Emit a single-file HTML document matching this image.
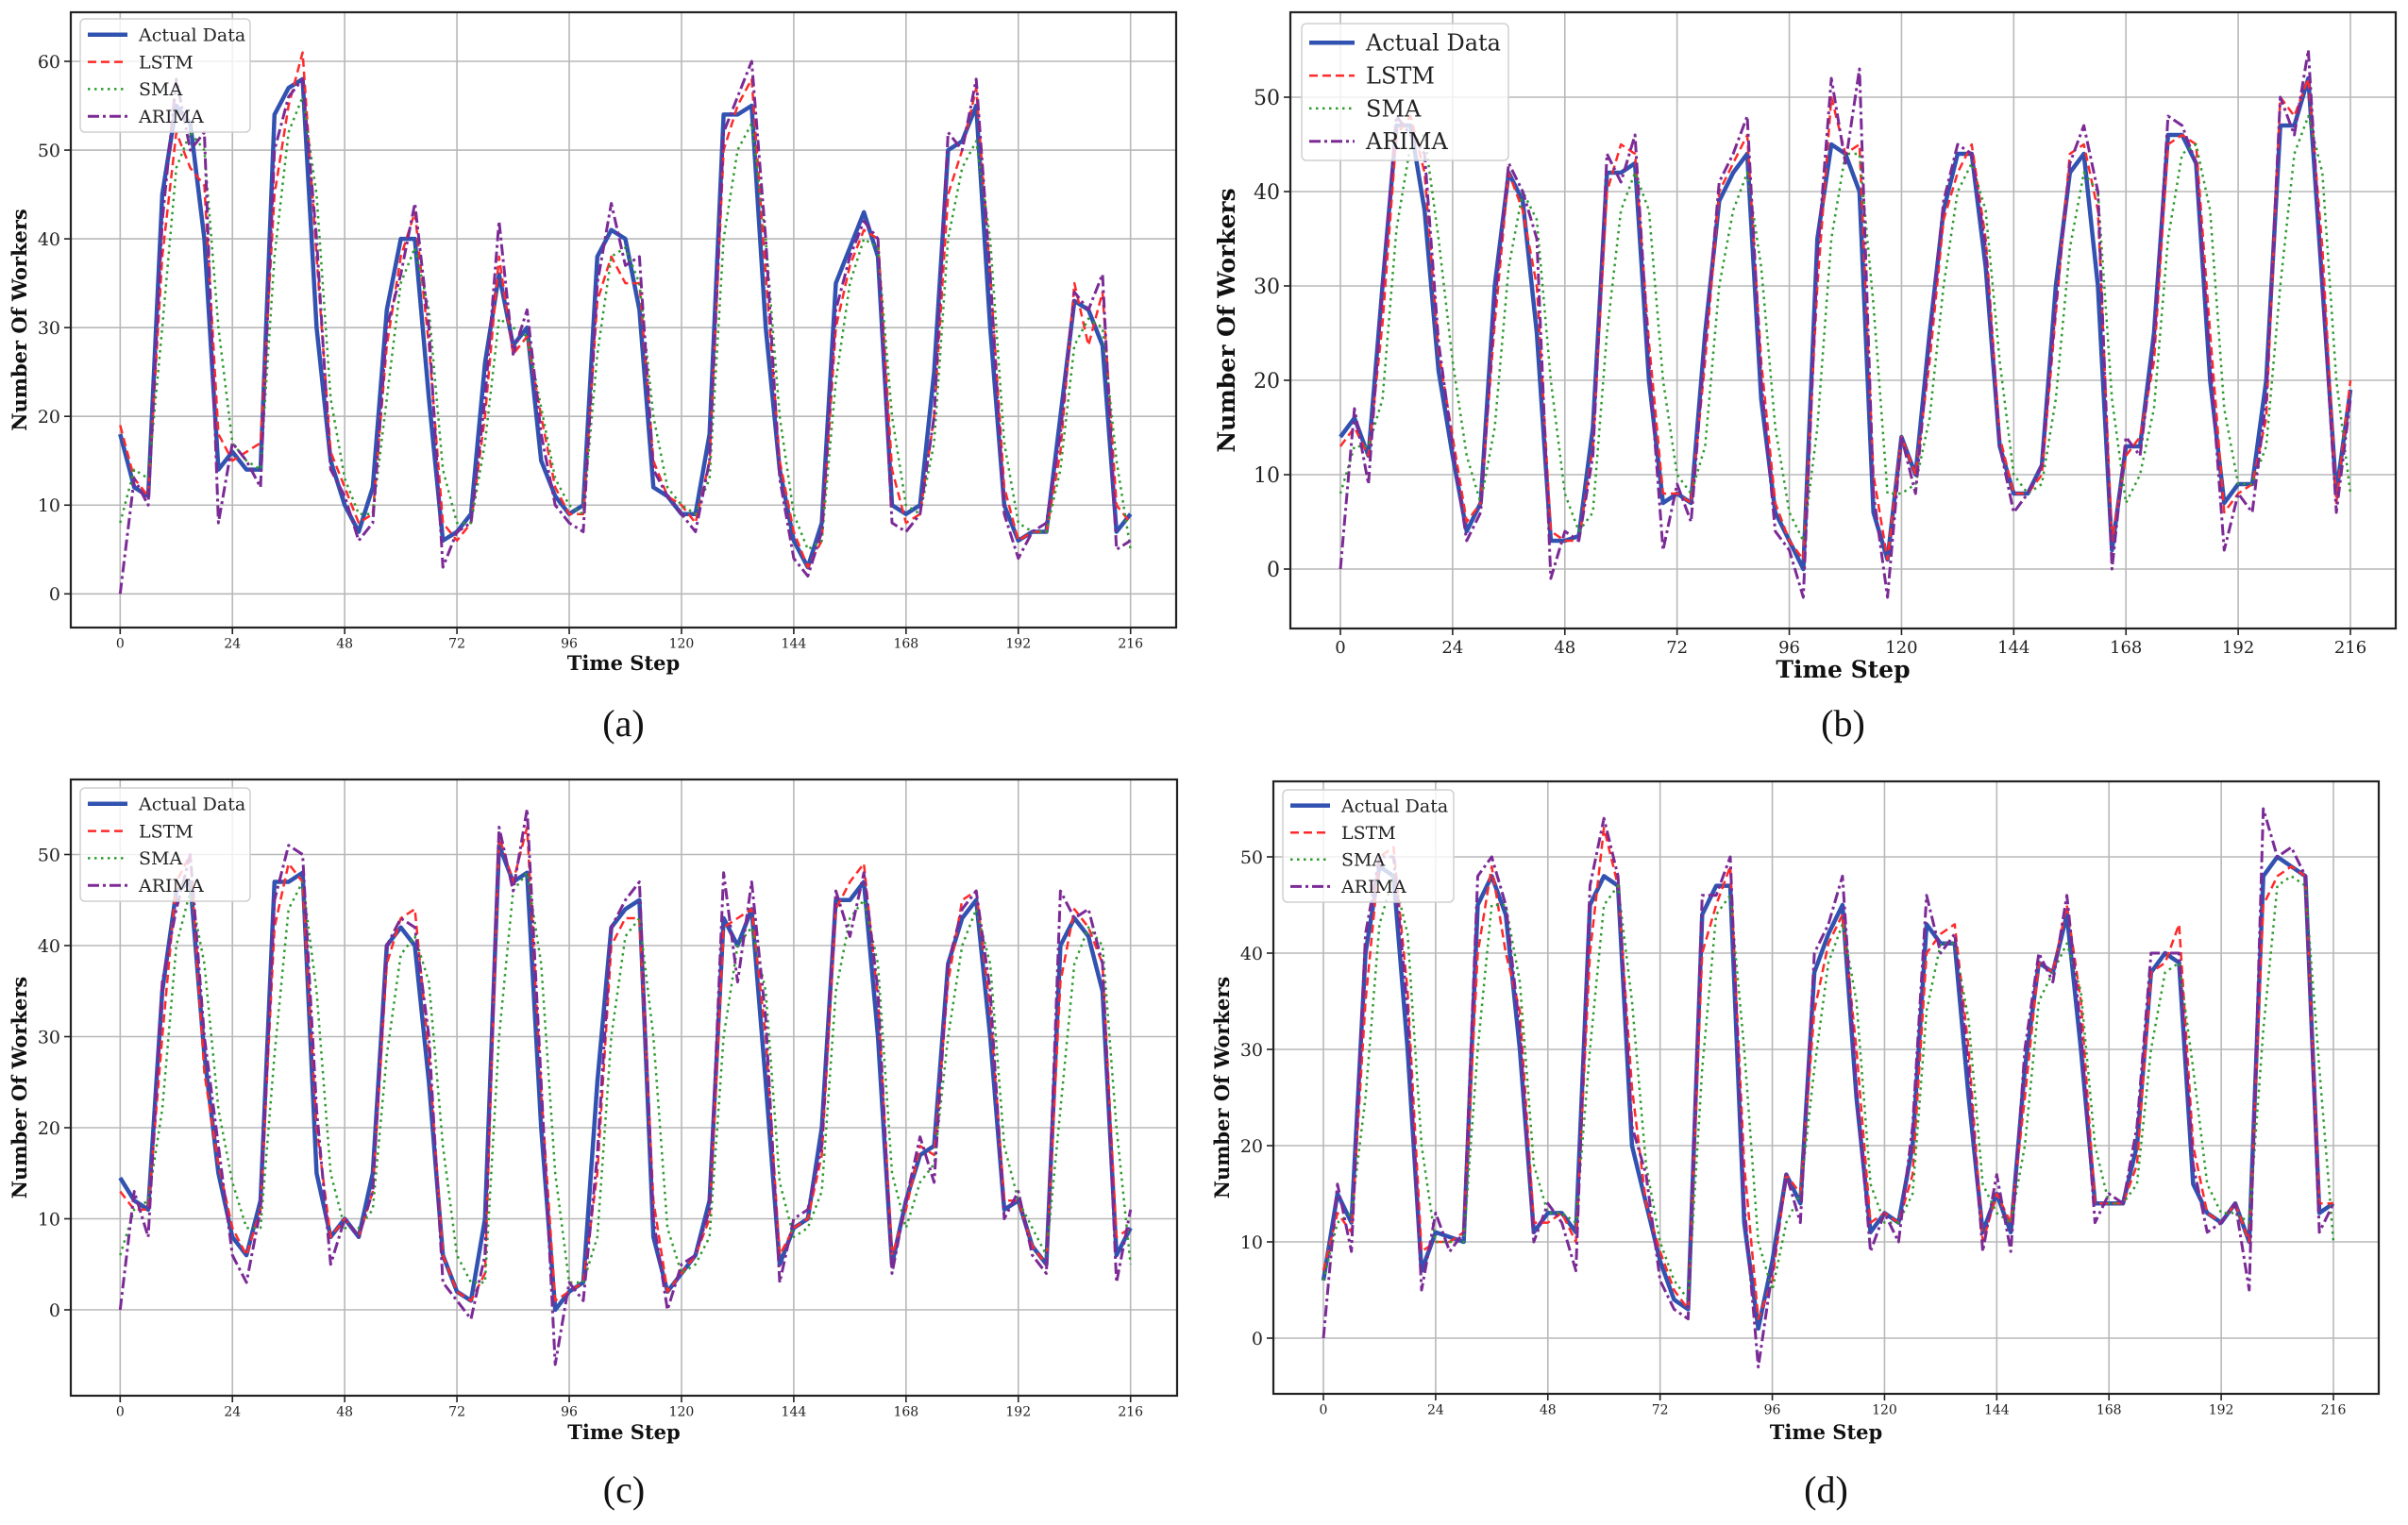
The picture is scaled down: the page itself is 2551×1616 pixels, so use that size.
<!DOCTYPE html>
<html><head><meta charset="utf-8"><style>
html,body{margin:0;padding:0;background:#fff;}
svg{display:block;}
</style></head><body>
<svg id="fig" xmlns="http://www.w3.org/2000/svg" width="2551" height="1616" viewBox="0 0 2551 1616">
<rect x="0" y="0" width="2551" height="1616" fill="#fff"/>
</svg>
<script>
// ---- data (time step 3 per sample, starting at 0) ----
const xTicks = [0,24,48,72,96,120,144,168,192,216];
const seriesNames = ["Actual Data","LSTM","SMA","ARIMA"];
const sampleStep = 3;

const actualA = [18,12,11,45,55,53,40,14,16,14,14,54,57,58,30,15,10,7,12,32,40,40,22,6,7,9,26,36,28,30,15,11,9,10,38,41,40,32,12,11,9,9,18,54,54,55,30,14,6,3,8,35,39,43,38,10,9,10,25,50,51,55,30,10,6,7,7,20,33,32,28,7,9];
const lstmA = [19,13,11,38,52,48,46,18,15,16,17,45,55,61,38,16,12,8,9,28,38,43,28,8,6,8,20,38,27,29,20,12,9,9,33,38,35,35,15,11,10,8,15,50,55,58,36,15,7,3,6,30,37,41,40,14,8,9,20,45,50,57,36,12,6,7,7,16,35,28,34,10,8];
const smaA = [8,14,13,30,48,52,50,30,17,15,14,38,52,56,45,22,13,9,9,22,35,39,32,14,8,8,17,31,30,29,21,13,10,9,27,38,39,35,20,12,10,9,13,40,50,53,40,20,9,5,6,24,35,40,39,20,10,9,17,40,48,51,40,17,8,7,7,14,28,31,30,15,5];
const arimaA = [0,13,10,42,58,50,52,8,17,15,12,50,56,58,40,14,11,6,8,30,36,44,30,3,7,8,22,42,27,32,18,10,8,7,35,44,37,38,14,11,9,7,15,52,56,60,40,13,4,2,7,32,38,42,40,8,7,9,20,52,50,58,36,9,4,7,8,18,34,32,36,5,6];
const yTicksA = [0,10,20,30,40,50,60];

const actualB = [14,16,12,30,47,47,38,21,12,4,7,30,42,39,25,3,3,3.5,15,42,42,43,20,7,8,7,25,39,42,44,18,6,3,0,35,45,44,40,6,1,14,10,25,38,44,44,32,13,8,8,11,30,42,44,30,2,13,13,25,46,46,43,20,7,9,9,20,47,47,52,30,8,19];
const lstmB = [13,15,12,26,46,48,42,23,14,5,7,26,42,38,30,4,3,3,13,40,45,44,24,8,8,7,22,40,43,46,22,7,3,1,30,50,44,45,10,1,14,10,22,37,42,45,35,14,8,8,10,27,44,45,38,3,12,14,22,45,46,45,25,6,8,9,16,50,48,52,34,7,20];
const smaB = [8,13,13,18,36,45,46,35,22,12,7,15,32,40,37,20,8,4,6,25,38,42,38,20,10,8,13,30,38,42,32,15,6,3,15,35,44,44,28,8,8,9,16,30,40,43,38,22,10,8,9,18,34,42,40,18,7,10,17,35,44,45,38,17,9,9,13,30,44,48,42,20,8];
const arimaB = [0,17,9,30,48,46,44,24,13,3,6,28,43,40,35,-1,4,3,12,44,41,46,22,2,9,5,24,41,44,48,20,4,2,-3,33,52,43,53,8,-3,14,8,24,39,45,44,34,13,6,8,11,28,43,47,40,0,14,12,24,48,47,43,22,2,8,6,18,50,46,55,30,6,18];
const yTicksB = [0,10,20,30,40,50];

const actualC = [14.5,12,11,35,46,47,28,15,8,6,12,47,47,48,15,8,10,8,15,40,42,40,25,6,2,1,10,51,47,48,20,0,2,3,25,42,44,45,8,2,4,6,12,43,40,44,25,5,9,10,20,45,45,47,30,5,12,17,18,38,43,45,30,11,12,7,5,40,43,41,35,6,9];
const lstmC = [13,11,11,30,47,50,26,16,9,6,11,42,49,47,20,8,10,8,13,38,43,44,28,6,2,1,4,52,47,53,24,1,2,3,15,40,43,43,12,2,4,6,10,42,43,44,30,6,9,10,17,44,47,49,34,6,11,18,17,36,45,46,33,12,12,7,5,36,44,42,38,8,9];
const smaC = [6,11,12,22,40,46,38,22,14,9,9,28,44,47,35,15,9,9,11,28,39,41,36,18,6,3,3,30,46,48,38,15,3,3,8,30,41,43,30,9,4,5,8,30,40,42,35,14,8,9,13,35,43,45,38,15,9,14,16,30,40,44,38,18,12,9,6,22,38,42,40,20,5];
const arimaC = [0,13,8,36,44,50,30,18,6,3,11,45,51,50,22,5,10,8,13,40,43,42,30,3,1,-1,6,53,46,55,25,-6,3,1,17,42,45,47,10,0,5,6,11,48,36,47,32,3,10,11,18,46,41,48,35,4,12,19,14,38,44,46,35,10,13,6,4,46,43,44,38,3,11];
const yTicksC = [0,10,20,30,40,50];

const actualD = [6,15,12,40,49,48,30,7,11,10.5,10,45,48,44,30,11,13,13,11,45,48,47,20,14,8,4,3,44,47,47,12,1,8,17,14,38,42,45,25,11,13,12,20,43,41,41,25,11,15,11,28,39,38,44,30,14,14,14,20,38,40,39,16,13,12,14,10,48,50,49,48,13,14];
const lstmD = [7,13,11,35,50,51,36,9,10,10,11,40,49,40,34,12,12,13,10,40,53,47,26,14,9,5,3,40,45,49,18,2,6,17,15,34,41,44,30,12,13,12,17,40,42,43,30,10,15,12,25,39,38,45,35,14,14,14,18,38,39,43,20,13,12,14,10,45,48,49,48,14,14];
const smaD = [6,12,13,25,43,48,42,20,10,10,10,30,45,45,37,18,13,13,12,30,45,47,35,18,10,6,4,28,44,46,30,10,5,12,15,28,39,43,35,16,12,12,15,34,41,41,33,16,13,12,20,35,38,41,36,20,14,14,16,30,38,39,28,16,13,13,12,32,47,48,47,28,10];
const arimaD = [0,16,9,42,50,50,34,5,13,9,11,48,50,45,32,10,14,12,7,47,54,48,22,17,6,3,2,46,46,50,14,-3,7,17,12,40,43,48,26,9,13,10,22,46,40,42,28,9,17,9,30,40,37,46,32,12,15,14,22,40,40,40,18,11,12,14,5,55,50,51,48,11,14];
const yTicksD = [0,10,20,30,40,50];

// ---- rendering ----
const NS = "http://www.w3.org/2000/svg";
const svg = document.getElementById('fig');
const styles = [
  {stroke:"#3152b0", w:4.5, dash:null},
  {stroke:"#ff2a2a", w:2.5, dash:"9,5"},
  {stroke:"#2e9a2e", w:2.5, dash:"2.5,4.5"},
  {stroke:"#7b2a96", w:3, dash:"12,4,3,4"}
];
function mk(tag, attrs, parent){
  const e = document.createElementNS(NS, tag);
  for (const k in attrs) e.setAttribute(k, attrs[k]);
  (parent||svg).appendChild(e);
  return e;
}
function panel(cfg, series, yTicks){
  const g = mk('g', {});
  
  
  const sx = t => cfg.x0 + (t/216)*(cfg.x216 - cfg.x0);
  const sy = v => cfg.y0 - v*cfg.pu;
  // grid
  xTicks.forEach(t => {
    const l = mk('line', {x1:sx(t), x2:sx(t), y1:cfg.top, y2:cfg.bottom, stroke:"#b8b8b8", "stroke-width":1.6}, g);
    
    
  });
  yTicks.forEach(v => {
    const l = mk('line', {x1:cfg.left, x2:cfg.right, y1:sy(v), y2:sy(v), stroke:"#b8b8b8", "stroke-width":1.6}, g);
    
    
  });
  // series
  const clipId = 'clip' + cfg.id;
  const cp = mk('clipPath', {id:clipId}, g);
  mk('rect', {x:cfg.left, y:cfg.top, width:cfg.right-cfg.left, height:cfg.bottom-cfg.top}, cp);
  series.forEach((arr, si) => {
    const pts = arr.map((v,i) => sx(i*sampleStep).toFixed(1) + ',' + sy(v).toFixed(1)).join(' ');
    const st = styles[si];
    const p = mk('polyline', {points:pts, fill:"none", stroke:st.stroke, "stroke-width":st.w, "stroke-linejoin":"round", "clip-path":"url(#"+clipId+")"}, g);
    if (st.dash) p.setAttribute('stroke-dasharray', st.dash);
    
    
  });
  // frame
  const fr = mk('rect', {x:cfg.left, y:cfg.top, width:cfg.right-cfg.left, height:cfg.bottom-cfg.top, fill:"none", stroke:"#222", "stroke-width":2.2}, g);
  
  
  // ticks and labels
  xTicks.forEach(t => {
    mk('line', {x1:sx(t), x2:sx(t), y1:cfg.bottom, y2:cfg.bottom+7, stroke:"#222", "stroke-width":1.6}, g);
    const tx = mk('text', {x:sx(t), y:cfg.bottom+7+cfg.xfs*1.05, "text-anchor":"middle", "font-family":"DejaVu Serif, Liberation Serif, serif", "font-size":cfg.xfs, fill:"#222"}, g);
    tx.textContent = t;
    
    
  });
  yTicks.forEach(v => {
    mk('line', {x1:cfg.left-7, x2:cfg.left, y1:sy(v), y2:sy(v), stroke:"#222", "stroke-width":1.6}, g);
    const tx = mk('text', {x:cfg.left-11, y:sy(v)+cfg.yfs*0.36, "text-anchor":"end", "font-family":"DejaVu Serif, Liberation Serif, serif", "font-size":cfg.yfs, fill:"#222"}, g);
    tx.textContent = v;
    
    
  });
  const xl = mk('text', {x:(cfg.left+cfg.right)/2, y:cfg.xly, "text-anchor":"middle", "font-family":"DejaVu Serif, Liberation Serif, serif", "font-weight":"bold", "font-size":cfg.lfs, fill:"#111"}, g);
  xl.textContent = "Time Step";
  
  
  const ym = (cfg.top+cfg.bottom)/2;
  const yl = mk('text', {x:cfg.ylx, y:ym, "text-anchor":"middle", transform:"rotate(-90 "+cfg.ylx+" "+ym+")", "font-family":"DejaVu Serif, Liberation Serif, serif", "font-weight":"bold", "font-size":cfg.lfs, fill:"#111"}, g);
  yl.textContent = "Number Of Workers";
  
  
  // legend
  const lg = mk('g', {}, g);
  
  
  mk('rect', {x:cfg.lgx, y:cfg.lgy, width:cfg.lgw, height:cfg.lgh, rx:5, fill:"rgba(255,255,255,0.8)", stroke:"#d0d0d0", "stroke-width":1.5}, lg);
  seriesNames.forEach((n, si) => {
    const ry = cfg.lgy + cfg.lgh*(0.14 + si*0.24);
    const st = styles[si];
    const ln = mk('line', {x1:cfg.lgx+8, x2:cfg.lgx+8+cfg.lgl, y1:ry, y2:ry, stroke:st.stroke, "stroke-width":st.w}, lg);
    if (st.dash) ln.setAttribute('stroke-dasharray', st.dash);
    const tx = mk('text', {x:cfg.lgx+20+cfg.lgl, y:ry+cfg.lgfs*0.35, "font-family":"DejaVu Serif, Liberation Serif, serif", "font-size":cfg.lgfs, fill:"#222"}, lg);
    tx.textContent = n;
    
    
  });
  const cap = mk('text', {x:(cfg.left+cfg.right)/2, y:cfg.capy, "text-anchor":"middle", "font-family":"Liberation Serif, serif", "font-size":40, fill:"#111"}, g);
  cap.textContent = "(" + cfg.id + ")";
  
  
}

panel({id:'a', left:75, right:1246, top:13, bottom:665, x0:127.3, x216:1197.7, y0:629.3, pu:9.405,
  xfs:14, yfs:19, lfs:21, xly:710, ylx:28, lgx:85, lgy:20, lgw:180, lgh:120, lgl:42, lgfs:19, capy:780},
  [actualA, lstmA, smaA, arimaA], yTicksA);
panel({id:'b', left:1367, right:2538, top:13, bottom:666, x0:1420, x216:2490, y0:603, pu:10,
  xfs:18, yfs:22, lfs:25, xly:718, ylx:1308, lgx:1379, lgy:25, lgw:219, lgh:145, lgl:48, lgfs:24, capy:780},
  [actualB, lstmB, smaB, arimaB], yTicksB);
panel({id:'c', left:75, right:1247, top:826, bottom:1479, x0:127.3, x216:1197.7, y0:1388, pu:9.65,
  xfs:14, yfs:19, lfs:21, xly:1525, ylx:28, lgx:85, lgy:835, lgw:180, lgh:120, lgl:42, lgfs:19, capy:1592},
  [actualC, lstmC, smaC, arimaC], yTicksC);
panel({id:'d', left:1349, right:2520, top:828, bottom:1477, x0:1402, x216:2472, y0:1418, pu:10.2,
  xfs:14, yfs:19, lfs:21, xly:1525, ylx:1302, lgx:1359, lgy:837, lgw:181, lgh:119, lgl:42, lgfs:19, capy:1592},
  [actualD, lstmD, smaD, arimaD], yTicksD);
</script>
</body></html>
